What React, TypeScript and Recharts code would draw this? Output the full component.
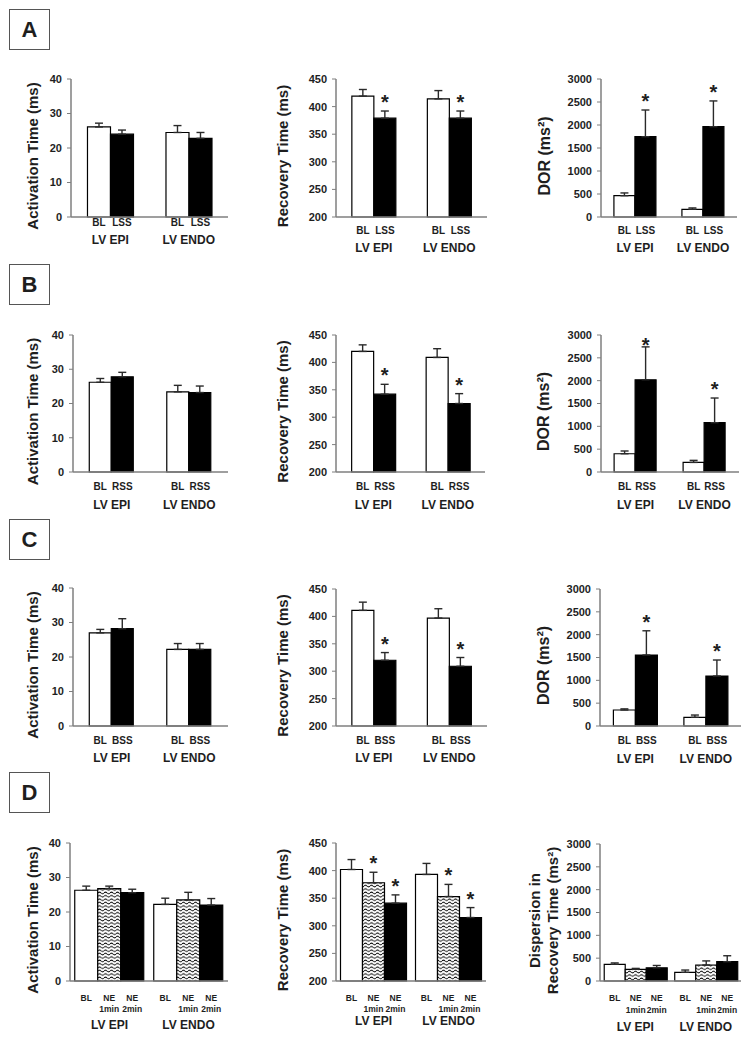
import React from 'react';
import { BarChart, Bar, XAxis, YAxis, ErrorBar, LabelList, Label } from 'recharts';

const FONT = '"Liberation Sans", Arial, Helvetica, sans-serif';
const INK = '#1e1e1e';
const FRAME = '#7f7f7f';
const WAVY = 'url(#wavyFill)';

// ---------- categories & ticks ----------
const groups = ['LV EPI', 'LV ENDO'];
const actTicks = [0, 10, 20, 30, 40];
const recTicks = [200, 250, 300, 350, 400, 450];
const dorTicks = [0, 500, 1000, 1500, 2000, 2500, 3000];

// ---------- Panel A (LSS) ----------
const actA_BL = [26.1, 24.5];
const actA_BL_err = [1.1, 2.0];
const actA_LSS = [24.0, 22.8];
const actA_LSS_err = [1.2, 1.7];
const recA_BL = [419, 414];
const recA_BL_err = [12, 15];
const recA_LSS = [379, 379];
const recA_LSS_err = [13, 13];
const dorA_BL = [463, 167];
const dorA_BL_err = [60, 30];
const dorA_LSS = [1746, 1963];
const dorA_LSS_err = [580, 560];

// ---------- Panel B (RSS) ----------
const actB_BL = [26.2, 23.4];
const actB_BL_err = [1.1, 1.9];
const actB_RSS = [27.8, 23.2];
const actB_RSS_err = [1.3, 1.9];
const recB_BL = [420, 409];
const recB_BL_err = [12, 16];
const recB_RSS = [342, 325];
const recB_RSS_err = [18, 18];
const dorB_BL = [400, 210];
const dorB_BL_err = [60, 45];
const dorB_RSS = [2020, 1080];
const dorB_RSS_err = [720, 540];

// ---------- Panel C (BSS) ----------
const actC_BL = [27.0, 22.2];
const actC_BL_err = [1.0, 1.7];
const actC_BSS = [28.2, 22.2];
const actC_BSS_err = [2.9, 1.7];
const recC_BL = [411, 397];
const recC_BL_err = [15, 17];
const recC_BSS = [320, 309];
const recC_BSS_err = [14, 16];
const dorC_BL = [350, 190];
const dorC_BL_err = [25, 50];
const dorC_BSS = [1555, 1095];
const dorC_BSS_err = [530, 350];

// ---------- Panel D (NE) ----------
const actD_BL = [26.3, 22.2];
const actD_BL_err = [1.2, 1.8];
const actD_NE1 = [26.8, 23.5];
const actD_NE1_err = [0.7, 2.2];
const actD_NE2 = [25.6, 22.0];
const actD_NE2_err = [1.0, 1.9];
const recD_BL = [402, 393];
const recD_BL_err = [18, 20];
const recD_NE1 = [378, 353];
const recD_NE1_err = [19, 22];
const recD_NE2 = [341, 315];
const recD_NE2_err = [15, 18];
const dorD_BL = [366, 190];
const dorD_BL_err = [30, 50];
const dorD_NE1 = [256, 350];
const dorD_NE1_err = [20, 90];
const dorD_NE2 = [290, 423];
const dorD_NE2_err = [50, 130];

// significance markers
const noStar = [false, false];
const bothStar = [true, true];

type Series = { lines: string[]; values: number[]; errors: number[]; stars: boolean[]; fill: string };
type Cfg = {
  x0: number; y0: number; x1: number; y1: number;
  title: string[]; titleDx: number[]; titleSize: number;
  domain: [number, number]; ticks: number[]; series: Series[];
  gap: string; subDy: number; lineH: number; groupDy: number; subSize: number;
};

const PAD_L = 86;
const PAD_T = 30;
const PAD_R = 4;
const PAD_B = 62;

const white = '#ffffff';
const black = '#000000';

const s2 = (name: string, v: number[], e: number[], st: boolean[], fill: string): Series => ({
  lines: [name], values: v, errors: e, stars: st, fill,
});
const s3 = (lines: string[], v: number[], e: number[], st: boolean[], fill: string): Series => ({
  lines, values: v, errors: e, stars: st, fill,
});

const actTitle = ['Activation Time (ms)'];
const recTitle = ['Recovery Time (ms)'];
const dorTitle = ['DOR (ms\u00B2)'];
const disTitle = ['Dispersion in', 'Recovery Time (ms\u00B2)'];

const panels: Cfg[] = [
  // Row A
  { x0: 71, y0: 79, x1: 228, y1: 217, title: actTitle, titleDx: [39], titleSize: 15, domain: [0, 40], ticks: actTicks, gap: '21%', subDy: 8.5, lineH: 11, groupDy: 27, subSize: 10,
    series: [s2('BL', actA_BL, actA_BL_err, noStar, white), s2('LSS', actA_LSS, actA_LSS_err, noStar, black)] },
  { x0: 336, y0: 79, x1: 487, y1: 217, title: recTitle, titleDx: [54], titleSize: 15, domain: [200, 450], ticks: recTicks, gap: '21%', subDy: 16.5, lineH: 11, groupDy: 35, subSize: 10,
    series: [s2('BL', recA_BL, recA_BL_err, noStar, white), s2('LSS', recA_LSS, recA_LSS_err, bothStar, black)] },
  { x0: 601, y0: 79, x1: 737, y1: 217, title: dorTitle, titleDx: [57], titleSize: 16, domain: [0, 3000], ticks: dorTicks, gap: '19%', subDy: 16.5, lineH: 11, groupDy: 35, subSize: 10,
    series: [s2('BL', dorA_BL, dorA_BL_err, noStar, white), s2('LSS', dorA_LSS, dorA_LSS_err, bothStar, black)] },
  // Row B
  { x0: 73, y0: 335, x1: 228, y1: 472, title: actTitle, titleDx: [41], titleSize: 15, domain: [0, 40], ticks: actTicks, gap: '21%', subDy: 17.5, lineH: 11, groupDy: 37, subSize: 10,
    series: [s2('BL', actB_BL, actB_BL_err, noStar, white), s2('RSS', actB_RSS, actB_RSS_err, noStar, black)] },
  { x0: 336, y0: 335, x1: 485, y1: 472, title: recTitle, titleDx: [54], titleSize: 15, domain: [200, 450], ticks: recTicks, gap: '21%', subDy: 17.5, lineH: 11, groupDy: 37, subSize: 10,
    series: [s2('BL', recB_BL, recB_BL_err, noStar, white), s2('RSS', recB_RSS, recB_RSS_err, bothStar, black)] },
  { x0: 601, y0: 335, x1: 739, y1: 472, title: dorTitle, titleDx: [58], titleSize: 16, domain: [0, 3000], ticks: dorTicks, gap: '19%', subDy: 17.5, lineH: 11, groupDy: 37, subSize: 10,
    series: [s2('BL', dorB_BL, dorB_BL_err, noStar, white), s2('RSS', dorB_RSS, dorB_RSS_err, bothStar, black)] },
  // Row C
  { x0: 73, y0: 588, x1: 228, y1: 726, title: actTitle, titleDx: [41], titleSize: 15, domain: [0, 40], ticks: actTicks, gap: '21%', subDy: 17.5, lineH: 11, groupDy: 36, subSize: 10,
    series: [s2('BL', actC_BL, actC_BL_err, noStar, white), s2('BSS', actC_BSS, actC_BSS_err, noStar, black)] },
  { x0: 336, y0: 589, x1: 487, y1: 726, title: recTitle, titleDx: [54], titleSize: 15, domain: [200, 450], ticks: recTicks, gap: '21%', subDy: 17.5, lineH: 11, groupDy: 36, subSize: 10,
    series: [s2('BL', recC_BL, recC_BL_err, noStar, white), s2('BSS', recC_BSS, recC_BSS_err, bothStar, black)] },
  { x0: 600, y0: 589, x1: 741, y1: 726, title: dorTitle, titleDx: [57], titleSize: 16, domain: [0, 3000], ticks: dorTicks, gap: '19%', subDy: 18, lineH: 11, groupDy: 37, subSize: 10,
    series: [s2('BL', dorC_BL, dorC_BL_err, noStar, white), s2('BSS', dorC_BSS, dorC_BSS_err, bothStar, black)] },
  // Row D
  { x0: 70, y0: 843, x1: 228, y1: 981, title: actTitle, titleDx: [38], titleSize: 15, domain: [0, 40], ticks: actTicks, gap: '6%', subDy: 20, lineH: 11, groupDy: 48, subSize: 8.5,
    series: [s3(['BL'], actD_BL, actD_BL_err, noStar, white), s3(['NE', '1min'], actD_NE1, actD_NE1_err, noStar, WAVY), s3(['NE', '2min'], actD_NE2, actD_NE2_err, noStar, black)] },
  { x0: 336, y0: 843, x1: 486, y1: 981, title: recTitle, titleDx: [54], titleSize: 15, domain: [200, 450], ticks: recTicks, gap: '6%', subDy: 20, lineH: 11, groupDy: 44, subSize: 8.5,
    series: [s3(['BL'], recD_BL, recD_BL_err, noStar, white), s3(['NE', '1min'], recD_NE1, recD_NE1_err, bothStar, WAVY), s3(['NE', '2min'], recD_NE2, recD_NE2_err, bothStar, black)] },
  { x0: 600, y0: 844, x1: 741, y1: 981, title: disTitle, titleDx: [66, 48], titleSize: 15, domain: [0, 3000], ticks: dorTicks, gap: '6%', subDy: 20, lineH: 12, groupDy: 50, subSize: 8.5,
    series: [s3(['BL'], dorD_BL, dorD_BL_err, noStar, white), s3(['NE', '1min'], dorD_NE1, dorD_NE1_err, noStar, WAVY), s3(['NE', '2min'], dorD_NE2, dorD_NE2_err, noStar, black)] },
];

const boxes = [
  { letter: 'A', top: 9 },
  { letter: 'B', top: 264 },
  { letter: 'C', top: 519 },
  { letter: 'D', top: 772 },
];

const getBox = (p: any) => {
  const vb = p && p.viewBox && typeof p.viewBox.width === 'number' ? p.viewBox : p;
  return { x: Number(vb.x), y: Number(vb.y), w: Number(vb.width), h: Number(vb.height) };
};

const subLabel = (lines: string[], dy: number, lineH: number, size: number) => (p: any) => {
  const b = getBox(p);
  const cx = b.x + b.w / 2;
  const by = b.y + b.h;
  return (
    <text x={cx} y={by + dy} textAnchor="middle" fontFamily={FONT} fontSize={size} fontWeight="bold" fill={INK}>
      {lines.map((l, i) => (
        <tspan key={i} x={cx} dy={i === 0 ? 0 : lineH}>{l}</tspan>
      ))}
    </text>
  );
};

const starLabel = (s: Series, base: number) => (p: any) => {
  const i = p.index;
  if (i === undefined || !s.stars[i]) return null;
  const b = getBox(p);
  const v = s.values[i];
  const capY = b.y - (s.errors[i] * b.h) / (v - base);
  const center = Math.max(capY - 12, PAD_T + 7);
  return (
    <text x={b.x + b.w / 2} y={center + 10} textAnchor="middle" fontFamily={FONT} fontSize={20} fontWeight="bold" fill={INK}>*</text>
  );
};

const groupTick = (dy: number) => (p: any) => (
  <text x={p.x} y={p.y + dy} textAnchor="middle" fontFamily={FONT} fontSize={12} fontWeight="bold" fill={INK}>
    {p.payload.value}
  </text>
);

function Panel({ cfg }: { cfg: Cfg }) {
  const W = cfg.x1 - cfg.x0 + PAD_L + PAD_R;
  const plotH = cfg.y1 - cfg.y0;
  const H = plotH + PAD_T + PAD_B;
  const base = cfg.domain[0];
  const data = groups.map((g, i) => {
    const row: any = { group: g };
    cfg.series.forEach((s, j) => {
      row['v' + j] = s.values[i];
      row['e' + j] = [0, s.errors[i]];
    });
    return row;
  });
  const titleCy = PAD_T + plotH / 2 + 8;
  const titleContent = () => (
    <g>
      {cfg.title.map((t, k) => {
        const cx = PAD_L - cfg.titleDx[k];
        return (
          <text key={k} x={cx} y={titleCy} transform={`rotate(-90 ${cx} ${titleCy})`} textAnchor="middle"
            dominantBaseline="central" fontFamily={FONT} fontSize={cfg.titleSize} fontWeight="bold" fill={INK}>
            {t}
          </text>
        );
      })}
    </g>
  );
  return (
    <div style={{ position: 'absolute', left: cfg.x0 - PAD_L, top: cfg.y0 - PAD_T }}>
      <BarChart width={W} height={H} data={data} margin={{ top: PAD_T, right: PAD_R, bottom: 0, left: 0 }}
        barCategoryGap={cfg.gap} barGap={0}>
        <defs>
          <pattern id="wavyFill" width="6" height="3.4" patternUnits="userSpaceOnUse">
            <rect width="6" height="3.4" fill="#ffffff" />
            <path d="M0 1.7 Q1.5 0.2 3 1.7 T6 1.7" stroke="#000" strokeWidth="0.9" fill="none" />
          </pattern>
        </defs>
        <XAxis dataKey="group" height={PAD_B} interval={0} tickLine={false} tickSize={0} tickMargin={0}
          axisLine={{ stroke: FRAME, strokeWidth: 1.5 }} tick={groupTick(cfg.groupDy)} />
        <XAxis xAxisId="t" orientation="top" dataKey="group" height={0} tick={false} tickLine={false}
          axisLine={{ stroke: FRAME, strokeWidth: 1.5 }} />
        <YAxis domain={cfg.domain} ticks={cfg.ticks} interval={0} width={PAD_L} tickSize={4} tickMargin={5}
          axisLine={{ stroke: FRAME, strokeWidth: 1.5 }} tickLine={{ stroke: FRAME }}
          tick={{ fill: INK, fontSize: 11, fontWeight: 'bold', fontFamily: FONT }}
          label={<Label content={titleContent} />} />
        <YAxis yAxisId="r" orientation="right" width={0} domain={[0, 1]} tick={false} tickLine={false}
          axisLine={{ stroke: FRAME, strokeWidth: 1.5 }} />
        {cfg.series.map((s, j) => (
          <Bar key={j} dataKey={'v' + j} fill={s.fill} stroke="#000" strokeWidth={1.2} isAnimationActive={false}>
            <ErrorBar dataKey={'e' + j} width={4} stroke="#2a2a2a" strokeWidth={1.4} direction="y" isAnimationActive={false} />
            <LabelList dataKey={'v' + j} content={subLabel(s.lines, cfg.subDy, cfg.lineH, cfg.subSize)} />
            <LabelList dataKey={'v' + j} content={starLabel(s, base)} />
          </Bar>
        ))}
      </BarChart>
    </div>
  );
}

export default function App() {
  return (
    <div style={{ position: 'absolute', left: 0, top: 0, width: 750, height: 1040, background: '#fff', fontFamily: FONT }}>
      {boxes.map((b) => (
        <div key={b.letter} style={{
          position: 'absolute', left: 9, top: b.top, width: 41, height: 41, boxSizing: 'border-box',
          border: '1.5px solid #555', display: 'flex', alignItems: 'center', justifyContent: 'center',
          fontFamily: FONT, fontWeight: 'bold', fontSize: 22, color: INK,
        }}>{b.letter}</div>
      ))}
      {panels.map((cfg, i) => (
        <Panel key={i} cfg={cfg} />
      ))}
    </div>
  );
}
